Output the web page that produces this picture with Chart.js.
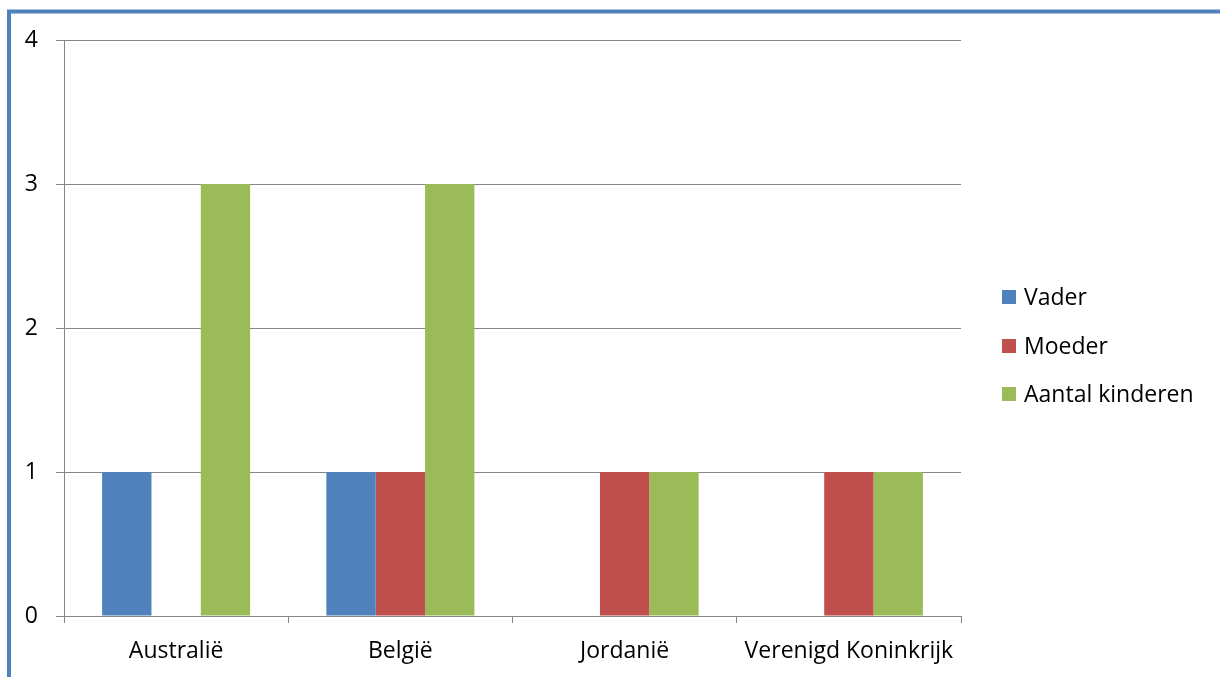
<!DOCTYPE html>
<html>
<head>
<meta charset="utf-8">
<script src="https://cdn.jsdelivr.net/npm/chart.js@4"></script>
<style>
html,body{margin:0;padding:0;background:#fff;}
#wrap{width:1220px;height:677px;position:relative;}
</style>
</head>
<body>
<div id="wrap"><canvas id="c" width="1220" height="677"></canvas></div>
<script>
const categories = ['Australië', 'België', 'Jordanië', 'Verenigd Koninkrijk'];
const seriesNames = ['Vader', 'Moeder', 'Aantal kinderen'];
const vader = [1, 1, null, null];
const moeder = [null, 1, 1, 1];
const kinderen = [3, 3, 1, 1];
const yTicks = [0, 1, 2, 3, 4];

const colors = ['#4F81BD', '#C0504D', '#9BBB59'];
const FONT = '"Open Sans", sans-serif';
const FSIZE = 23;

const framePlugin = {
  id: 'frame',
  afterDraw(chart) {
    const ctx = chart.ctx;
    ctx.save();
    ctx.strokeStyle = '#4F81BD';
    ctx.lineWidth = 4;
    ctx.beginPath();
    ctx.moveTo(9, 677);
    ctx.lineTo(9, 11.5);
    ctx.lineTo(1220, 11.5);
    ctx.stroke();
    ctx.restore();
  }
};

const legendPlugin = {
  id: 'customLegend',
  afterDraw(chart) {
    const ctx = chart.ctx;
    ctx.save();
    ctx.font = FSIZE + 'px ' + FONT;
    ctx.textBaseline = 'middle';
    ctx.textAlign = 'left';
    const ys = [297, 346, 394];
    chart.data.datasets.forEach((ds, i) => {
      ctx.fillStyle = ds.backgroundColor;
      ctx.fillRect(1002, ys[i] - 7, 14, 14);
      ctx.fillStyle = '#000';
      ctx.fillText(ds.label, 1024, ys[i] + 1);
    });
    ctx.restore();
  }
};

new Chart(document.getElementById('c'), {
  type: 'bar',
  data: {
    labels: categories,
    datasets: [
      { label: seriesNames[0], data: vader, backgroundColor: colors[0] },
      { label: seriesNames[1], data: moeder, backgroundColor: colors[1] },
      { label: seriesNames[2], data: kinderen, backgroundColor: colors[2] }
    ]
  },
  options: {
    responsive: false,
    animation: false,
    devicePixelRatio: 1,
    categoryPercentage: 0.66,
    barPercentage: 1,
    layout: { padding: { left: 0, right: 259, top: 40, bottom: 0 } },
    plugins: {
      legend: { display: false },
      tooltip: { enabled: false }
    },
    scales: {
      x: {
        offset: true,
        grid: { offset: true, drawOnChartArea: false, drawTicks: true, tickLength: 7, color: '#868686', lineWidth: 1 },
        border: { display: true, color: '#868686', width: 1 },
        ticks: { color: '#000', font: { family: FONT, size: FSIZE }, padding: 15, maxRotation: 0, autoSkip: false },
        afterFit(scale) { scale.height = 61; }
      },
      y: {
        min: 0, max: 4,
        afterBuildTicks(scale) { scale.ticks = yTicks.map(v => ({ value: v })); },
        grid: { color: '#868686', lineWidth: 1, tickLength: 8, drawTicks: true },
        border: { display: true, color: '#868686', width: 1 },
        ticks: { color: '#000', font: { family: FONT, size: FSIZE }, padding: 18 },
        afterFit(scale) { scale.width = 64; }
      }
    }
  },
  plugins: [framePlugin, legendPlugin]
});
</script>
</body>
</html>
